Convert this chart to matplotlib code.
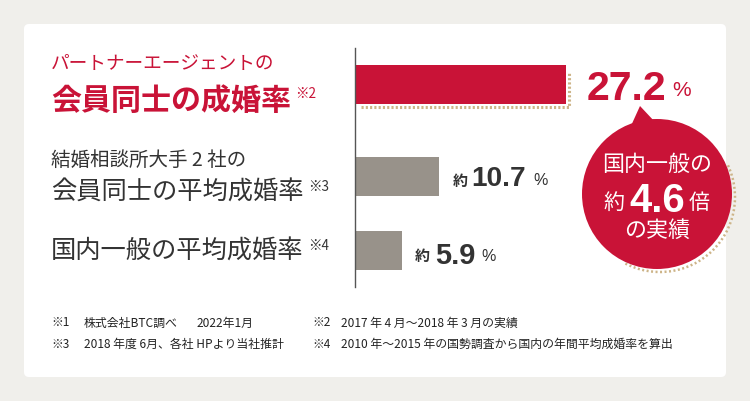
import matplotlib
matplotlib.use('Agg')
import matplotlib.pyplot as plt
from matplotlib.patches import FancyBboxPatch, Circle, Polygon, Arc

plt.rcParams['font.family'] = ['Noto Sans CJK JP', 'DejaVu Sans']

# values
labels = ['会員同士の成婚率', '会員同士の平均成婚率', '国内一般の平均成婚率']
values = [27.2, 10.7, 5.9]
bar_colors = ['#c91337', '#98928a', '#98928a']

RED = '#c91337'
DARK = '#333333'
NUM = ['Liberation Sans', 'DejaVu Sans']

W, H = 750, 401
fig = plt.figure(figsize=(W/100, H/100), dpi=100, facecolor='#f0efeb')

# background axes in pixel coords
bg = fig.add_axes([0, 0, 1, 1])
bg.set_xlim(0, W)
bg.set_ylim(H, 0)
bg.axis('off')

bg.add_patch(FancyBboxPatch((24, 24), 702, 353, boxstyle='round,pad=0,rounding_size=5',
                            fc='white', ec='none'))

# dotted shadows behind the red bar and the circle
dot = '#cdb488'
bg.plot([361, 569, 569], [107, 107, 72], color=dot, lw=2.2, ls=(0, (0.7, 0.7)), zorder=1)
bg.add_patch(Arc((660, 197), 150, 150, theta1=-25, theta2=118, ec=dot, lw=1.8,
                 ls=(0, (0.8, 1.0)), zorder=1))

# bars
ax = fig.add_axes([356/W, 1-287/H, 300/W, 239/H])
ax.patch.set_alpha(0)
ax.set_xlim(0, 300/7.72)
ax.set_ylim(287, 48)
bar_y = [84.5, 176.5, 250.5]
ax.barh(bar_y, values, height=39, color=bar_colors, zorder=2)
ax.set_xticks([])
ax.set_yticks([])
for s in ['top', 'right', 'bottom']:
    ax.spines[s].set_visible(False)
ax.spines['left'].set_color('#555555')
ax.spines['left'].set_linewidth(1.0)
ax.spines['left'].set_position(('outward', 0.6))

# speech bubble
over = fig.add_axes([0, 0, 1, 1])
over.set_xlim(0, W)
over.set_ylim(H, 0)
over.axis('off')
over.patch.set_alpha(0)
over.add_patch(Circle((657, 194), 75, fc=RED, ec='none'))
over.add_patch(Polygon([(640, 106), (630, 128), (655, 122)], closed=True, fc=RED, ec='none'))


def txt(x, y, s, px, color=DARK, weight='normal', family=None, ha='left'):
    # nudge down since va=center sits a bit high for these fonts
    y = y + (3.5 if family else 2)
    over.text(x, y, s, fontsize=px*0.72, color=color, fontweight=weight,
              family=family or plt.rcParams['font.family'], ha=ha, va='center')


# left labels
txt(51, 61, 'パートナーエージェントの', 18.7, RED)
txt(51, 99, labels[0], 30, RED, 'bold')
txt(295, 92, '※2', 13.5, RED)
txt(51, 158, '結婚相談所大手 2 社の', 19.5, DARK)
txt(51, 191, labels[1], 25.3, DARK)
txt(308, 185, '※3', 13.5, DARK)
txt(51, 250, labels[2], 25.3, DARK)
txt(308, 244, '※4', 13.5, DARK)

# value labels
txt(587, 85, '27.2', 41, RED, 'bold', NUM)
txt(672, 87, '%', 21, RED, 'normal', NUM)
txt(453, 179, '約', 15, DARK, 'bold')
txt(471, 176, '10.7', 28, DARK, 'bold', NUM)
txt(533, 177, '%', 16, DARK, 'normal', NUM)
txt(415, 254, '約', 15, DARK, 'bold')
txt(435, 252, '5.9', 29, DARK, 'bold', NUM)
txt(481, 253, '%', 16, DARK, 'normal', NUM)

# bubble text
txt(657, 163, '国内一般の', 22, 'white', ha='center')
txt(603, 201, '約', 21, 'white')
txt(629, 197, '4.6', 40, 'white', 'bold', NUM)
txt(689, 201, '倍', 21, 'white')
txt(657, 229, 'の実績', 22, 'white', ha='center')

# footnotes
FOOT = 11.9
txt(51, 321, '※1', FOOT, '#222222')
txt(84, 321, '株式会社BTC調べ', FOOT, '#222222')
txt(197, 321, '2022年1月', FOOT, '#222222')
txt(51, 342, '※3', FOOT, '#222222')
txt(84, 342, '2018 年度 6月、各社 HPより当社推計', FOOT, '#222222')
txt(312, 321, '※2', FOOT, '#222222')
txt(341, 321, '2017 年 4 月～2018 年 3 月の実績', FOOT, '#222222')
txt(312, 342, '※4', FOOT, '#222222')
txt(341, 342, '2010 年～2015 年の国勢調査から国内の年間平均成婚率を算出', FOOT, '#222222')

fig.savefig('out.png', dpi=100, facecolor=fig.get_facecolor())
